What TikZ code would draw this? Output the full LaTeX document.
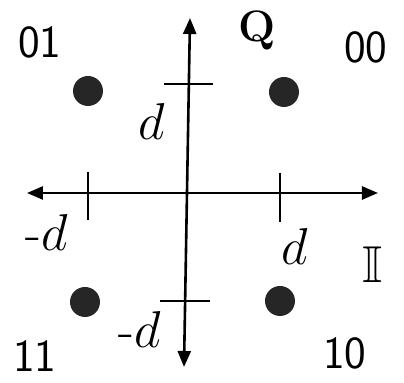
\documentclass[tikz,border=0pt]{standalone}
\usepackage{amssymb}
\usetikzlibrary{arrows.meta}
\newcommand{\bigsym}[1]{\scalebox{1.25}{#1}}

\begin{document}
\begin{tikzpicture}[
  x=0.5pt, y=-0.5pt,
  >={Triangle[length=8pt, width=6.5pt]},
  axis/.style={line width=1.3pt, <->},
  tickmark/.style={line width=0.7pt},
  dot/.style={circle, fill=black!85, inner sep=0pt, minimum size=15pt},
  bits/.style={font=\fontsize{23}{26}\selectfont\sffamily},
  lbl/.style={font=\fontsize{20.74}{24}\selectfont, inner sep=0pt}
]
\useasboundingbox (0,0) rectangle (404,383);
% axes
\coordinate (qtop) at (190,18);
\coordinate (qbot) at (184,367);
\coordinate (ileft) at (27,193);
\coordinate (iright) at (378,193);
\draw[axis] (ileft) -- (iright);
\draw[axis] (qbot) -- (qtop);
% ticks at +-d
\coordinate (tq1) at (164,84);  \coordinate (tq2) at (213,84);
\coordinate (tq3) at (160,301); \coordinate (tq4) at (210,301);
\coordinate (ti1) at (88,172);  \coordinate (ti2) at (88,220);
\coordinate (ti3) at (280,173); \coordinate (ti4) at (280,222);
\draw[tickmark] (tq1) -- (tq2);
\draw[tickmark] (tq3) -- (tq4);
\draw[tickmark] (ti1) -- (ti2);
\draw[tickmark] (ti3) -- (ti4);
% constellation points
\node[dot] (s01) at (88,91) {};
\node[dot] (s00) at (284,92) {};
\node[dot] (s11) at (85,302) {};
\node[dot] (s10) at (280,301) {};
% bit labels
\node[bits] (b01) at (40,42) {01};
\node[bits] (b00) at (366,47) {00};
\node[bits] (b11) at (35,356) {11};
\node[bits] (b10) at (345,353) {10};
% axis names
\node[lbl, font=\fontsize{22}{26}\selectfont\bfseries] (qname) at (257,30) {Q};
\node[lbl] (iname) at (373,265) {\bigsym{$\mathbb{I}$}};
% distances
\node[lbl] (dq) at (152,122) {\bigsym{$d$}};
\node[lbl] (mdq) at (140,330) {\bigsym{-$d$}};
\node[lbl] (di) at (295,247) {\bigsym{$d$}};
\node[lbl] (mdi) at (47,233) {\bigsym{-$d$}};
\end{tikzpicture}
\end{document}
